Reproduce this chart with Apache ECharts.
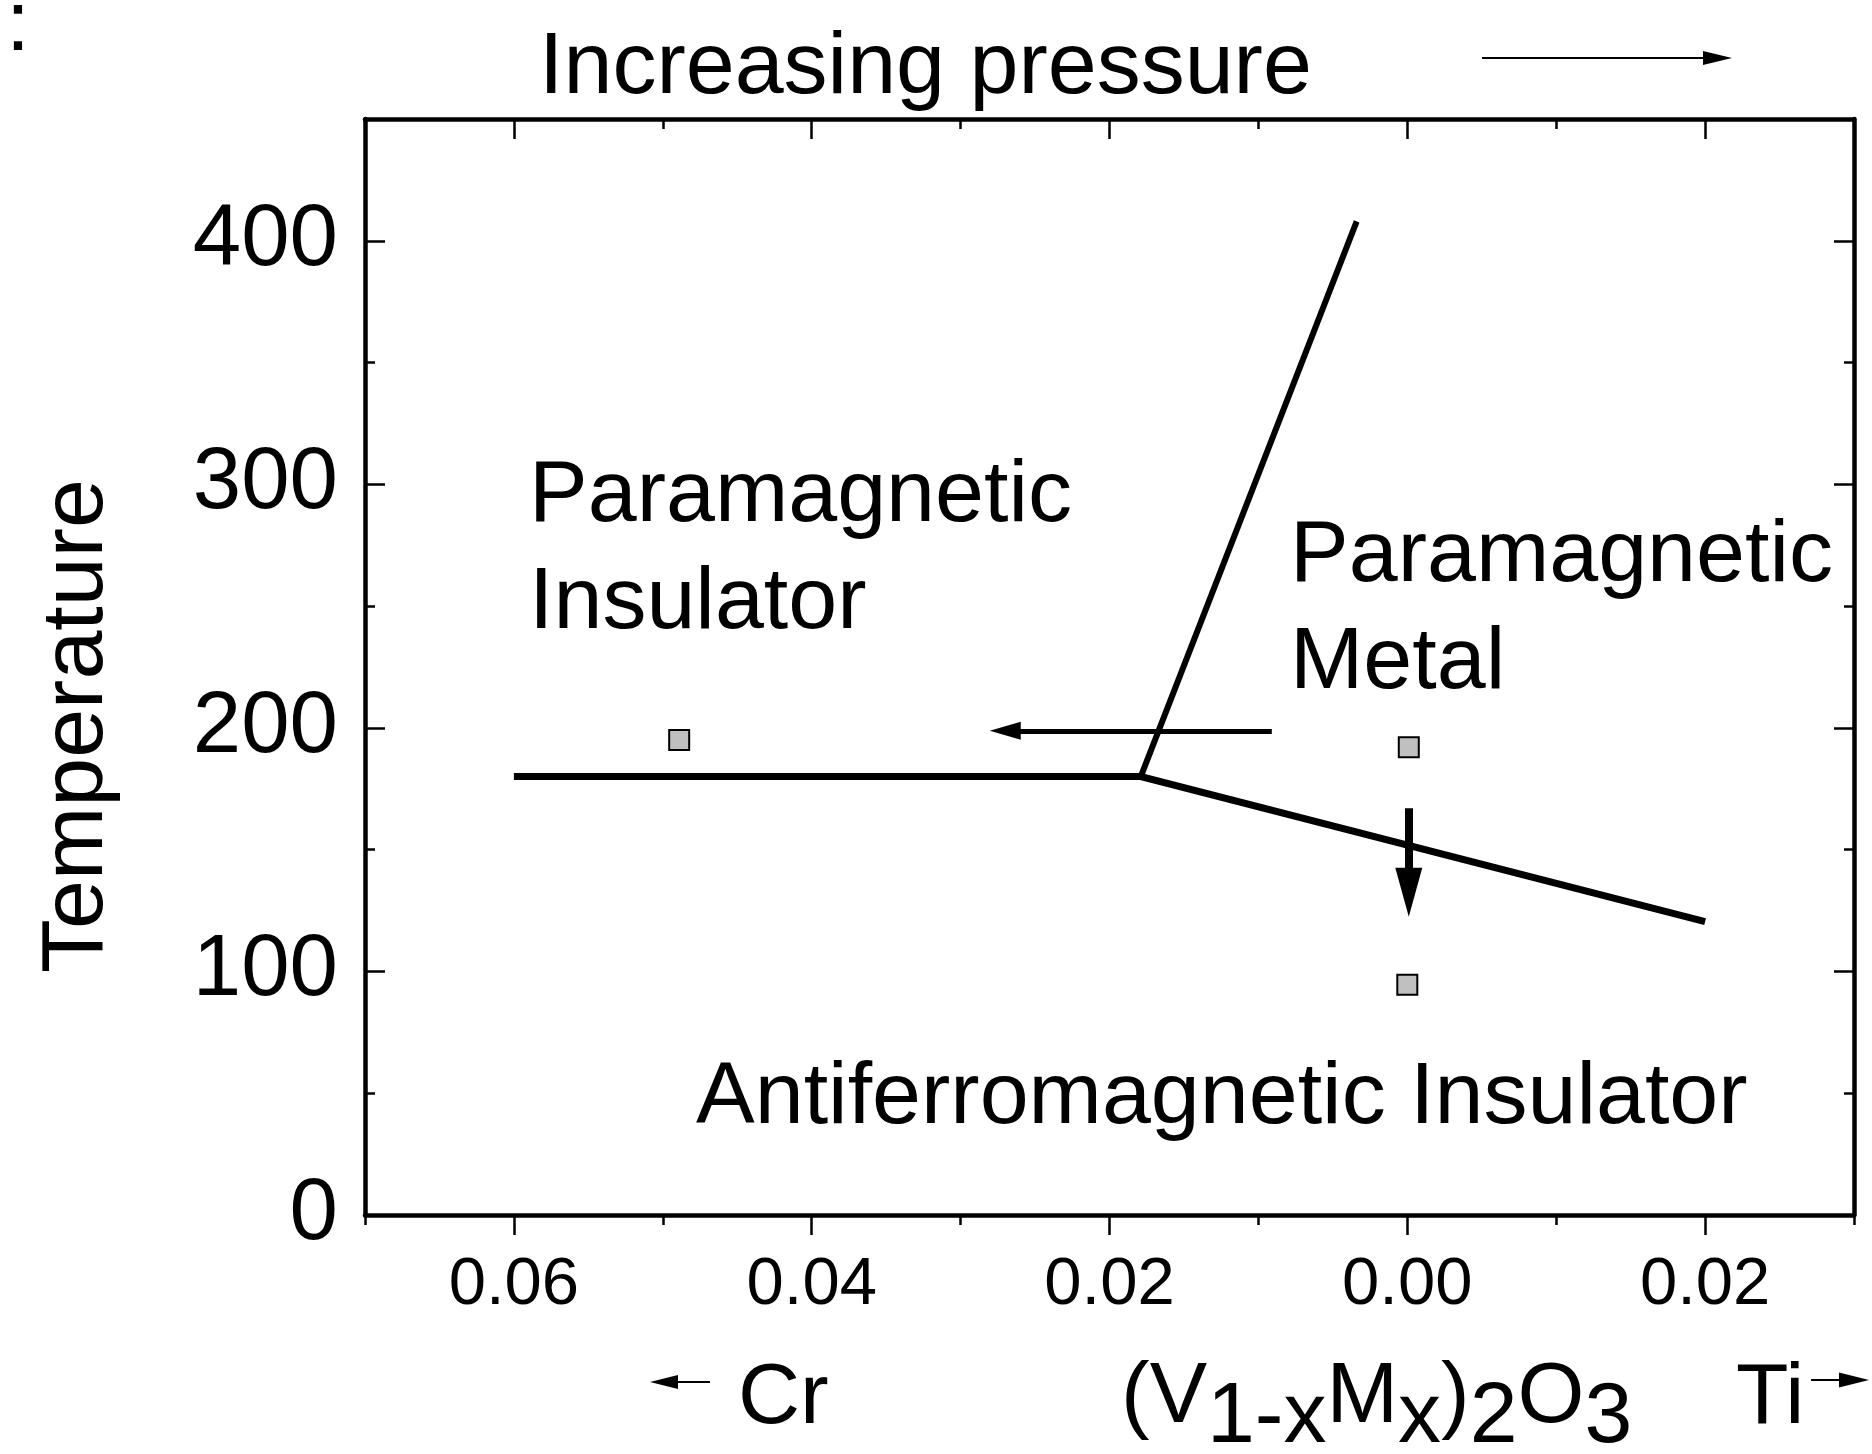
<!DOCTYPE html>
<html>
<head>
<meta charset="utf-8">
<script src="https://cdn.jsdelivr.net/npm/echarts@6/dist/echarts.min.js"></script>
<style>
  html, body { margin: 0; padding: 0; background: #fff; }
  #chart { width: 1872px; height: 1454px; }
</style>
</head>
<body>
<div id="chart"></div>
<script>
// x = dopant fraction, Cr to the left (negative), Ti to the right (positive)
const compTicks = [-0.06, -0.04, -0.02, 0, 0.02];
const tempTicks = [0, 100, 200, 300, 400];

// phase boundaries
const insulatorLineX = [-0.06, -0.0179, 0.02];
const insulatorLineT = [180, 180, 120.5];
const metalLineX = [-0.0179, -0.0034];
const metalLineT = [180, 408];

// measured samples (grey squares)
const sampleX = [-0.0489, 0.0001, 0.0];
const sampleT = [195, 192, 94.5];

// arrows inside the plot: [start, end]
const pressureArrowX = [-0.0091, -0.0270];
const pressureArrowT = [198.8, 198.8];
const coolingArrowX = [0.0001, 0.0001];
const coolingArrowT = [167, 132.5];

const FONT = "'Liberation Sans', Arial, Helvetica, sans-serif";
const BIG = 88;
const MID = 86;

function zip(xs, ys) {
  return xs.map(function (x, i) { return [x, ys[i]]; });
}

const tickStyle = { color: '#000', width: 2.5 };
const frameStyle = { color: '#000', width: 4.5 };

function xAxisDef(position, major) {
  return {
    type: 'value',
    position: position,
    min: -0.07,
    max: 0.03,
    interval: 0.01,
    axisLine: { show: !major, onZero: false, lineStyle: frameStyle },
    axisTick: major
      ? { show: true, inside: position === 'top', length: 20, customValues: compTicks, lineStyle: tickStyle }
      : { show: true, inside: position === 'top', length: 10, lineStyle: tickStyle },
    axisLabel: (position === 'bottom' && major) ? {
      show: true,
      customValues: compTicks,
      margin: 37,
      fontSize: 67,
      color: '#000',
      fontFamily: FONT,
      formatter: function (v) { return Math.abs(v).toFixed(2); }
    } : { show: false },
    splitLine: { show: false }
  };
}

function yAxisDef(position, major) {
  return {
    type: 'value',
    position: position,
    min: 0,
    max: 450,
    interval: 50,
    axisLine: { show: !major, onZero: false, lineStyle: frameStyle },
    axisTick: major
      ? { show: true, inside: true, length: 20, customValues: tempTicks, lineStyle: tickStyle }
      : { show: true, inside: true, length: 10, lineStyle: tickStyle },
    axisLabel: (position === 'left' && major) ? {
      show: true,
      customValues: tempTicks,
      margin: 27,
      fontSize: 87,
      color: '#000',
      fontFamily: FONT
    } : { show: false },
    splitLine: { show: false }
  };
}

function label(text, x, baseline, size) {
  size = size || BIG;
  return {
    type: 'text',
    x: x,
    y: baseline - Math.round(size * 0.3),
    style: {
      text: text,
      fontSize: size,
      fontFamily: FONT,
      fill: '#000',
      align: 'left',
      verticalAlign: 'middle'
    }
  };
}

function smallArrow(x1, x2, y, headLen, halfW) {
  // x2 is the tip
  const dir = x2 > x1 ? 1 : -1;
  const back = x2 - dir * headLen;
  return [
    { type: 'line', shape: { x1: x1, y1: y, x2: back, y2: y }, style: { stroke: '#000', lineWidth: 2 } },
    { type: 'polygon', shape: { points: [[x2, y], [back, y - halfW], [back, y + halfW]] }, style: { fill: '#000' } }
  ];
}

const chart = echarts.init(document.getElementById('chart'), null, { renderer: 'canvas' });

const option = {
  animation: false,
  backgroundColor: '#fff',
  textStyle: { fontFamily: FONT },
  grid: { left: 365, right: 18, top: 119, bottom: 239, containLabel: false },
  xAxis: [
    xAxisDef('bottom', false),
    xAxisDef('bottom', true),
    xAxisDef('top', false),
    xAxisDef('top', true)
  ],
  yAxis: [
    yAxisDef('left', false),
    yAxisDef('left', true),
    yAxisDef('right', false),
    yAxisDef('right', true)
  ],
  series: [
    {
      type: 'line',
      data: zip(insulatorLineX, insulatorLineT),
      showSymbol: false,
      symbol: 'none',
      silent: true,
      lineStyle: { color: '#000', width: 7, join: 'miter', cap: 'butt' }
    },
    {
      type: 'line',
      data: zip(metalLineX, metalLineT),
      showSymbol: false,
      symbol: 'none',
      silent: true,
      lineStyle: { color: '#000', width: 6, join: 'miter', cap: 'butt' }
    },
    {
      type: 'scatter',
      data: zip(sampleX, sampleT),
      symbol: 'rect',
      symbolSize: 20,
      silent: true,
      itemStyle: { color: '#c0c0c0', borderColor: '#000', borderWidth: 2, opacity: 1 },
      markLine: {
        silent: true,
        animation: false,
        label: { show: false },
        emphasis: { disabled: true },
        data: [
          [
            { coord: [pressureArrowX[0], pressureArrowT[0]], symbol: 'none',
              lineStyle: { color: '#000', width: 5, type: 'solid' } },
            { coord: [pressureArrowX[1], pressureArrowT[1]], symbol: 'triangle', symbolSize: [18, 31] }
          ],
          [
            { coord: [coolingArrowX[0], coolingArrowT[0]], symbol: 'none',
              lineStyle: { color: '#000', width: 8, type: 'solid' } },
            { coord: [coolingArrowX[1], coolingArrowT[1]], symbol: 'triangle', symbolSize: [27, 49] }
          ]
        ],
        itemStyle: { color: '#000' },
        lineStyle: { color: '#000', type: 'solid' }
      }
    }
  ],
  graphic: [
    label(':', 6, 52, MID),
    label('Increasing pressure', 539, 95),
    label('Paramagnetic', 529, 523),
    label('Insulator', 529, 630),
    label('Paramagnetic', 1290, 583),
    label('Metal', 1290, 690),
    label('Antiferromagnetic Insulator', 696, 1125),
    label('Cr', 738, 1425, MID),
    label('Ti', 1736, 1425, MID),
    {
      type: 'text',
      x: 1121,
      y: 1398,
      style: {
        text: '{n|(V}{s|1-x}{n|M}{s|x}{n|)}{s|2}{n|O}{s|3}',
        fontSize: MID,
        fontFamily: FONT,
        fill: '#000',
        align: 'left',
        verticalAlign: 'middle',
        rich: {
          n: { fontSize: MID, fontFamily: FONT, fill: '#000' },
          s: { fontSize: MID, fontFamily: FONT, fill: '#000', padding: [40, 0, 0, 0] }
        }
      }
    },
    {
      type: 'text',
      x: 78,
      y: 726,
      rotation: Math.PI / 2,
      style: {
        text: 'Temperature',
        fontSize: BIG,
        fontFamily: FONT,
        fill: '#000',
        align: 'center',
        verticalAlign: 'middle'
      }
    }
  ].concat(
    smallArrow(1482, 1732, 58, 29, 7),
    smallArrow(710, 650, 1382, 28, 7),
    smallArrow(1811, 1869, 1380, 30, 7.5)
  )
};

chart.setOption(option);
</script>
</body>
</html>
